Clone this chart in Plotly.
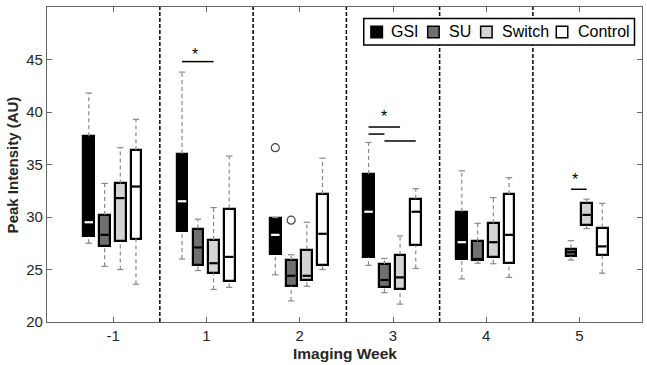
import plotly.graph_objects as go

weeks = ['-1', '1', '2', '3', '4', '5']
groups = ['GSI', 'SU', 'Switch', 'Control']

gsi_lo  = [27.5, 26.0, 24.5, 25.4, 24.1, None]
gsi_q1  = [28.2, 28.7, 26.5, 26.15, 26.0, None]
gsi_med = [29.5, 31.5, 28.3, 30.5, 27.6, None]
gsi_q3  = [37.7, 36.0, 29.9, 34.1, 30.5, None]
gsi_hi  = [41.8, 43.8, 29.95, 37.1, 34.4, None]

su_lo  = [25.3, 24.9, 22.0, 22.8, 25.6, 25.9]
su_q1  = [27.2, 25.4, 23.45, 23.3, 25.9, 26.3]
su_med = [28.3, 27.1, 24.4, 24.0, 26.0, 26.65]
su_q3  = [30.2, 28.9, 25.9, 25.5, 27.7, 27.0]
su_hi  = [33.2, 29.8, 26.4, 26.05, 29.4, 27.75]

sw_lo  = [25.0, 23.1, 23.4, 21.7, 25.55, 28.9]
sw_q1  = [27.7, 24.7, 24.0, 23.1, 26.15, 29.2]
sw_med = [31.8, 25.6, 24.4, 24.25, 27.6, 30.2]
sw_q3  = [33.2, 27.8, 26.9, 26.4, 29.4, 31.35]
sw_hi  = [36.6, 30.9, 29.5, 28.2, 31.85, 31.7]

ct_lo  = [23.6, 23.3, 25.0, 25.1, 24.25, 24.65]
ct_q1  = [27.95, 23.9, 25.4, 27.3, 25.6, 26.4]
ct_med = [32.9, 26.2, 28.4, 30.5, 28.3, 27.2]
ct_q3  = [36.35, 30.8, 32.2, 31.75, 32.2, 29.0]
ct_hi  = [39.3, 35.8, 35.6, 32.7, 33.75, 31.3]

out_week  = ['2', '2']
out_group = ['GSI', 'SU']
out_val   = [36.6, 29.7]

sig_week = ['1', '3', '3', '3', '5']
sig_from = ['GSI', 'GSI', 'GSI', 'SU', 'SU']
sig_to   = ['Switch', 'Switch', 'SU', 'Control', 'Switch']
sig_y    = [44.8, 38.57, 37.9, 37.24, 32.64]

star_week = ['1', '3', '5']
star_y    = [45.8, 39.9, 33.9]
star_off  = [-0.12, -0.096, -0.045]

stats = {
    'GSI': (gsi_lo, gsi_q1, gsi_med, gsi_q3, gsi_hi),
    'SU': (su_lo, su_q1, su_med, su_q3, su_hi),
    'Switch': (sw_lo, sw_q1, sw_med, sw_q3, sw_hi),
    'Control': (ct_lo, ct_q1, ct_med, ct_q3, ct_hi),
}
fills = {'GSI': '#000000', 'SU': '#707070', 'Switch': '#d4d4d4', 'Control': '#ffffff'}
med_col = {'GSI': '#ffffff', 'SU': '#000000', 'Switch': '#000000', 'Control': '#000000'}
offsets = {'GSI': -0.262, 'SU': -0.092, 'Switch': 0.076, 'Control': 0.244}
BW = 0.115
CAP = 0.034

def xpos(week, g):
    return weeks.index(week) + 1 + offsets[g]

fig = go.Figure()

# whiskers and caps
for g in groups:
    lo, q1, med, q3, hi = stats[g]
    wx, wy, cx, cy = [], [], [], []
    for i, w in enumerate(weeks):
        if med[i] is None:
            continue
        p = xpos(w, g)
        wx += [p, p, None, p, p, None]
        wy += [q3[i], hi[i], None, lo[i], q1[i], None]
        cx += [p - CAP, p + CAP, None, p - CAP, p + CAP, None]
        cy += [hi[i], hi[i], None, lo[i], lo[i], None]
    fig.add_trace(go.Scatter(x=wx, y=wy, mode='lines', showlegend=False, hoverinfo='skip',
                             line=dict(color='#8a8a8a', width=1.2, dash='4px,3px')))
    fig.add_trace(go.Scatter(x=cx, y=cy, mode='lines', showlegend=False, hoverinfo='skip',
                             line=dict(color='#8a8a8a', width=1.2)))

# boxes
for g in groups:
    lo, q1, med, q3, hi = stats[g]
    xs, bases, hs = [], [], []
    for i, w in enumerate(weeks):
        if med[i] is None:
            continue
        xs.append(xpos(w, g))
        bases.append(q1[i])
        hs.append(q3[i] - q1[i])
    fig.add_trace(go.Bar(x=xs, y=hs, base=bases, width=BW, name=g, showlegend=False,
                         marker=dict(color=fills[g], line=dict(color='#000000', width=2.2))))

# medians
for g in groups:
    lo, q1, med, q3, hi = stats[g]
    mx, my = [], []
    for i, w in enumerate(weeks):
        if med[i] is None:
            continue
        p = xpos(w, g)
        mx += [p - BW / 2 + 0.012, p + BW / 2 - 0.012, None]
        my += [med[i], med[i], None]
    fig.add_trace(go.Scatter(x=mx, y=my, mode='lines', showlegend=False, hoverinfo='skip',
                             line=dict(color=med_col[g], width=2.2)))

# outliers
fig.add_trace(go.Scatter(x=[xpos(w, g) for w, g in zip(out_week, out_group)], y=out_val,
                         mode='markers', showlegend=False, hoverinfo='skip',
                         marker=dict(symbol='circle-open', size=8, color='#444444', line=dict(width=1.2))))

# significance lines
for w, a, b, yv in zip(sig_week, sig_from, sig_to, sig_y):
    fig.add_trace(go.Scatter(x=[xpos(w, a), xpos(w, b)], y=[yv, yv], mode='lines', showlegend=False,
                             hoverinfo='skip', line=dict(color='#000000', width=1.5)))
for w, yv, o in zip(star_week, star_y, star_off):
    fig.add_annotation(x=weeks.index(w) + 1 + o, y=yv, text='*', showarrow=False,
                       font=dict(size=16, color='#000000', family='Liberation Sans'), yanchor='middle', yshift=-3)

# separators
for i in range(1, len(weeks)):
    fig.add_shape(type='line', x0=i + 0.5, x1=i + 0.5, y0=0, y1=1, xref='x', yref='paper',
                  line=dict(color='#000000', width=1.5, dash='4px,2px'))

# custom legend
L, R, T, B = 47.0, 642.5, 7.0, 322.3
def px(x):
    return (x - L) / (R - L)
def py(y):
    return (B - y) / (B - T)

fig.add_shape(type='rect', xref='paper', yref='paper', x0=px(364), x1=px(635), y0=py(45), y1=py(18.5),
              line=dict(color='#000000', width=1.5), fillcolor='#ffffff')
leg_sq = [371.2, 428.0, 481.0, 556.7]
leg_tx = [389.0, 447.7, 500.0, 576.0]
for g, sx, tx in zip(groups, leg_sq, leg_tx):
    fig.add_shape(type='rect', xref='paper', yref='paper', x0=px(sx), x1=px(sx + 11.5),
                  y0=py(37.8), y1=py(26.3), line=dict(color='#000000', width=1.5), fillcolor=fills[g])
    fig.add_annotation(xref='paper', yref='paper', x=px(tx), y=py(32), text=g, showarrow=False,
                       xanchor='left', yanchor='middle',
                       font=dict(size=16, color='#000000', family='Liberation Sans'))

# axis titles
fig.add_annotation(xref='paper', yref='paper', x=px(12.5), y=py(165), text='<b>Peak Intensity (AU)</b>',
                   textangle=-90, showarrow=False, xanchor='center', yanchor='middle',
                   font=dict(size=15, color='#262626', family='Liberation Sans'))
fig.add_annotation(xref='paper', yref='paper', x=px(345), y=py(353.5), text='<b>Imaging Week</b>',
                   showarrow=False, xanchor='center', yanchor='middle',
                   font=dict(size=15.5, color='#262626', family='Liberation Sans'))

axis_common = dict(showgrid=False, zeroline=False, showline=True, linecolor='#666666', linewidth=1.3,
                   mirror='ticks', ticks='inside', ticklen=5, tickcolor='#666666', automargin=False,
                   tickfont=dict(size=15, color='#262626'))

fig.update_layout(
    width=647, height=365,
    margin=dict(l=L, r=647 - R, t=T, b=365 - B, autoexpand=False),
    paper_bgcolor='#ffffff', plot_bgcolor='#ffffff',
    barmode='overlay', bargap=0,
    font=dict(family='Liberation Sans', color='#262626'),
    xaxis=dict(range=[0.29, 6.67], tickvals=list(range(1, len(weeks) + 1)), ticktext=weeks, **axis_common),
    yaxis=dict(range=[20, 50], tickvals=[20, 25, 30, 35, 40, 45], **axis_common),
)

fig.write_html('out.html', config={'displayModeBar': False},
               post_script="document.body.style.margin='0';document.body.style.overflow='hidden';")
